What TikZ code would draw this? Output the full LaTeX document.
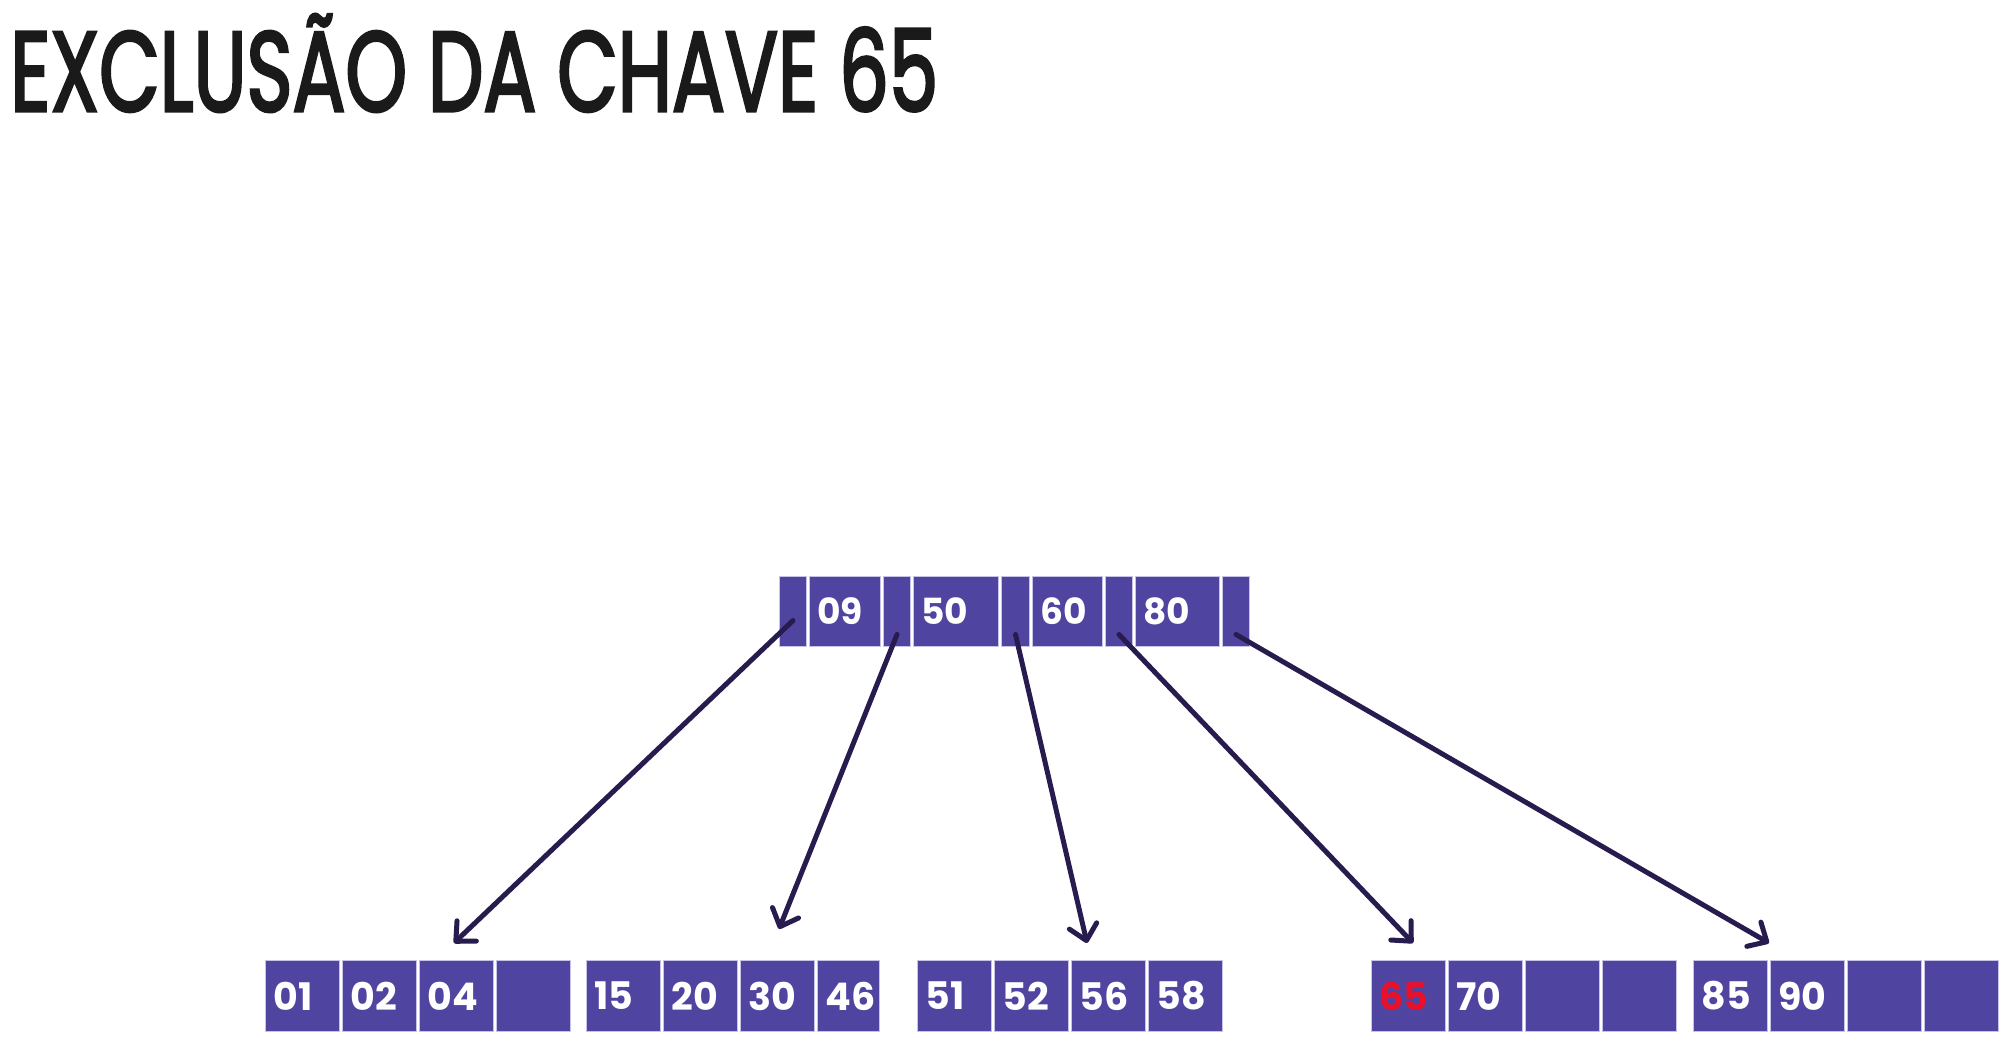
\documentclass[tikz,border=0pt]{standalone}
\usepackage{fontspec}
\usepackage{graphicx}
\usetikzlibrary{arrows.meta, calc, positioning}
\newfontfamily\keyfont{Poppins}
\newfontfamily\titlefont{Poppins}[FakeBold=3]
\definecolor{bnode}{RGB}{79,69,160}
\definecolor{bline}{RGB}{200,194,230}
\definecolor{ptrline}{RGB}{40,28,78}
\definecolor{hitkey}{RGB}{232,16,42}
\definecolor{titleink}{RGB}{26,26,26}

\begin{document}
\begin{tikzpicture}[x=1pt,y=-1pt,
      key/.style={anchor=north west,fill=bnode,draw=bline,line width=1pt,
        inner xsep=8pt,inner ysep=0pt,align=left,text=white,text width=#1},
      rkey/.style={key=#1,minimum height=70pt,
        font=\keyfont\bfseries\fontsize{36}{36}\selectfont},
      lkey/.style={key=#1,minimum height=71pt,
        font=\keyfont\bfseries\fontsize{38}{38}\selectfont},
      ptr/.style={draw=ptrline,line width=5pt,line cap=round,
        -{Straight Barb[length=15pt,width=28pt,round]}}]
      \useasboundingbox (0,0) rectangle (2006,1050);

      \node[anchor=base west,inner sep=0pt,text=titleink] (title) at (10,111)
        {\resizebox{928pt}{\height}{\titlefont\fontsize{113}{113}\selectfont EXCLUSÃO DA CHAVE 65}};

      % root page
      \node[rkey=11pt] (p0) at (779,576) {};
      \node[rkey=55pt,right=2pt of p0] (k0) {09};
      \node[rkey=11pt,right=2pt of k0] (p1) {};
      \node[rkey=69pt,right=2pt of p1] (k1) {50};
      \node[rkey=12pt,right=2pt of k1] (p2) {};
      \node[rkey=54pt,right=2pt of p2] (k2) {60};
      \node[rkey=11pt,right=2pt of k2] (p3) {};
      \node[rkey=68pt,right=2pt of p3] (k3) {80};
      \node[rkey=11pt,right=2pt of k3] (p4) {};

      % leaf pages
      \foreach \k [count=\j from 0] in {01,02,04,{}}
        \node[lkey=58pt] (la\j) at ({265+77*\j},960) {\k};
      \foreach \k [count=\j from 0] in {15,20,30}
        \node[lkey=58pt] (lb\j) at ({586+77*\j},960) {\k};
      \node[lkey=46pt] (lb3) at (817,960) {46};
      \foreach \k [count=\j from 0] in {51,52,56,58}
        \node[lkey=58pt] (lc\j) at ({917+77*\j},960) {\k};
      \node[lkey=58pt,text=hitkey] (ld0) at (1371,960) {65};
      \foreach \k [count=\j from 1] in {70,{},{}}
        \node[lkey=58pt] (ld\j) at ({1371+77*\j},960) {\k};
      \foreach \k [count=\j from 0] in {85,90,{},{}}
        \node[lkey=58pt] (le\j) at ({1693+77*\j},960) {\k};

      \coordinate (t1) at (454,943);
      \coordinate (t2) at (779,929);
      \coordinate (t3) at (1087,943);
      \coordinate (t4) at (1413,943);
      \coordinate (t5) at (1769,943);

      \draw[ptr] ($(p0.center)+(0,9)$) -- (t1);
      \draw[ptr] ($(p1.center)+(0,23)$) -- (t2);
      \draw[ptr] ($(p2.center)+(0,23)$) -- (t3);
      \draw[ptr] ($(p3.center)+(0,23)$) -- (t4);
      \draw[ptr] ($(p4.center)+(0,23)$) -- (t5);
    \end{tikzpicture}
\end{document}
